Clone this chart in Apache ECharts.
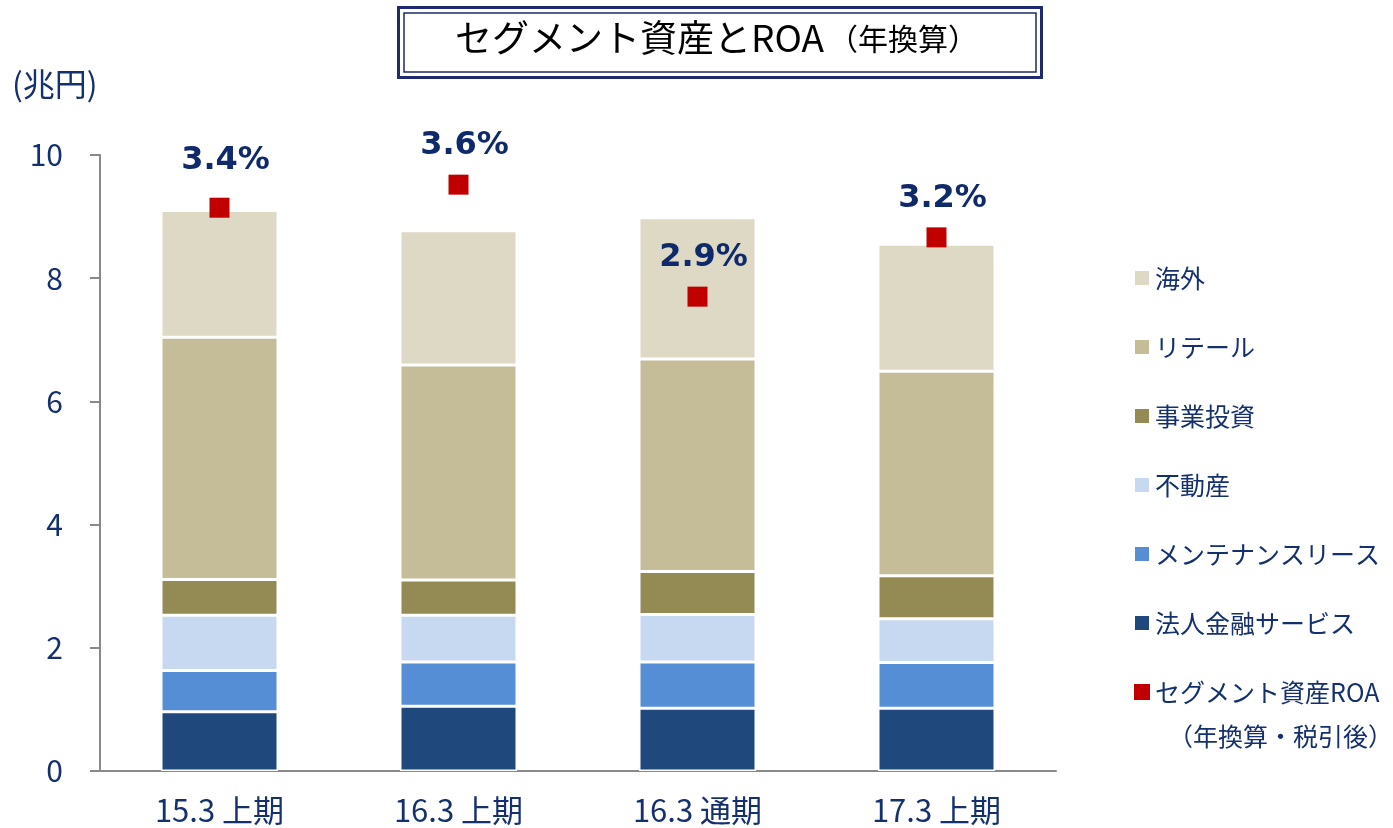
<!DOCTYPE html>
<html>
<head>
<meta charset="utf-8">
<script src="https://cdn.jsdelivr.net/npm/echarts@6/dist/echarts.min.js"></script>
<style>
  * { margin: 0; padding: 0; }
  html, body { background: #fff; }
  #chart { width: 1393px; height: 828px; }
</style>
</head>
<body>
<div id="chart"></div>
<script>
// 期間
const periods = ['15.3 上期', '16.3 上期', '16.3 通期', '17.3 上期'];
// セグメント資産（兆円）
const corporate = [0.96, 1.05, 1.02, 1.02];   // 法人金融サービス
const maintenance = [0.67, 0.72, 0.75, 0.74]; // メンテナンスリース
const realEstate = [0.90, 0.76, 0.77, 0.71];  // 不動産
const investment = [0.58, 0.57, 0.70, 0.70];  // 事業投資
const retail = [3.93, 3.49, 3.45, 3.32];      // リテール
const overseas = [2.06, 2.18, 2.29, 2.06];    // 海外
// セグメント資産ROA（%）
const roa = [3.42, 3.56, 2.88, 3.24];
const yTicks = [0, 2, 4, 6, 8, 10];

const navy = '#14306E';
const jp = "'Noto Sans CJK JP', 'Noto Sans', sans-serif";

const segs = [
  { name: '法人金融サービス', data: corporate, color: '#1F497D' },
  { name: 'メンテナンスリース', data: maintenance, color: '#558ED5' },
  { name: '不動産', data: realEstate, color: '#C6D9F1' },
  { name: '事業投資', data: investment, color: '#948A54' },
  { name: 'リテール', data: retail, color: '#C4BD97' },
  { name: '海外', data: overseas, color: '#DDD9C4' }
];

const chart = echarts.init(document.getElementById('chart'));

const series = segs.map(s => ({
  name: s.name,
  type: 'bar',
  stack: 'asset',
  barWidth: 117,
  data: s.data,
  itemStyle: { color: s.color, borderColor: '#fff', borderWidth: 1.5 },
  emphasis: { disabled: true }
}));

// 最初のラベルだけ少し上
const labelShift = [-8, 0, 0, 0];

series.push({
  name: 'セグメント資産ROA',
  type: 'scatter',
  yAxisIndex: 1,
  symbol: 'rect',
  symbolSize: 20,
  data: roa.map((v, i) => ({ value: v, label: { offset: [6, labelShift[i]] } })),
  itemStyle: { color: '#C00000', opacity: 1 },
  label: {
    show: true,
    position: 'top',
    distance: 13,
    formatter: p => p.value.toFixed(1) + '%',
    color: '#0F2A6B',
    fontFamily: "'DejaVu Sans', Verdana, sans-serif",
    fontWeight: 'bold',
    fontSize: 32
  },
  emphasis: { disabled: true },
  z: 5
});

chart.setOption({
  animation: false,
  textStyle: { fontFamily: jp },
  grid: { left: 100, right: 337, top: 155, bottom: 57 },
  xAxis: {
    type: 'category',
    data: periods,
    axisLine: { lineStyle: { color: '#898989', width: 2 } },
    axisTick: { inside: true, length: 8, lineStyle: { color: '#898989', width: 2 } },
    axisLabel: { color: navy, fontSize: 31, margin: 24, fontFamily: jp }
  },
  yAxis: [
    {
      type: 'value',
      min: 0,
      max: 10,
      interval: 2,
      axisLine: { show: true, lineStyle: { color: '#898989', width: 2 } },
      axisTick: { show: true, length: 10, lineStyle: { color: '#898989', width: 2 } },
      splitLine: { show: false },
      axisLabel: {
        color: navy, fontSize: 30, margin: 37, fontFamily: jp,
        formatter: v => yTicks.includes(v) ? String(v) : ''
      }
    },
    { type: 'value', min: 0, max: 3.74, show: false, splitLine: { show: false } }
  ],
  legend: {
    orient: 'vertical',
    left: 1128,
    top: 258,
    icon: 'rect',
    itemWidth: 16,
    itemHeight: 16,
    itemGap: 39,
    selectedMode: false,
    data: ['海外', 'リテール', '事業投資', '不動産', 'メンテナンスリース', '法人金融サービス', 'セグメント資産ROA'],
    textStyle: { color: navy, fontSize: 25, lineHeight: 30, fontFamily: jp }
  },
  graphic: [
    {
      type: 'rect',
      shape: { x: 398.5, y: 7.5, width: 643, height: 70 },
      style: { fill: '#fff', stroke: '#1F2A6E', lineWidth: 3 }
    },
    {
      type: 'rect',
      shape: { x: 404, y: 13, width: 632, height: 59 },
      style: { fill: 'none', stroke: '#1F2A6E', lineWidth: 1.5 }
    },
    {
      type: 'text',
      left: 455,
      top: 19,
      style: {
        text: '{a|セグメント資産とROA}{b|（年換算）}',
        rich: {
          a: { fontSize: 37, color: '#112766', fontFamily: jp, verticalAlign: 'bottom' },
          b: { fontSize: 30, color: '#112766', fontFamily: jp, verticalAlign: 'bottom', padding: [0, 0, 2, 4] }
        }
      }
    },
    {
      type: 'text',
      left: 12,
      top: 68,
      style: { text: '(兆円)', fontSize: 32, fill: navy, fontFamily: jp }
    },
    {
      type: 'text',
      left: 1168,
      top: 724,
      style: { text: '（年換算・税引後）', fontSize: 25, fill: navy, fontFamily: jp }
    }
  ],
  series: series
});
</script>
</body>
</html>
